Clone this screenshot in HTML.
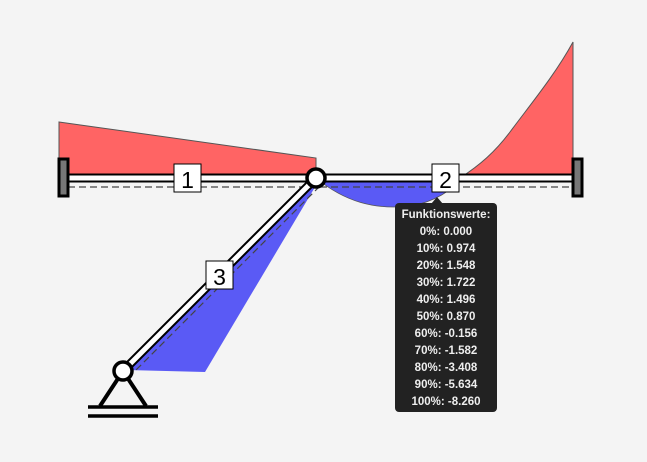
<!DOCTYPE html>
<html><head><style>body{margin:0;background:#f4f4f4}svg{display:block}</style></head><body>
<svg width="647" height="462" xmlns="http://www.w3.org/2000/svg" font-family="Liberation Sans, sans-serif">
<rect width="647" height="462" fill="#f4f4f4"/>
<polygon points="59,122 316,158 316,178 59,178" fill="#ff6464" stroke="#555" stroke-width="1"/>
<path d="M316,178 C345,202 375,210 410,206 C435,202 452,190 462,178 Z" fill="#5a5af5" stroke="#555" stroke-width="0.8"/>
<path d="M460,178 C480,165 495,152 510,132 C530,105 555,75 573,42 L573,178 Z" fill="#ff6464" stroke="#555" stroke-width="1"/>
<polygon points="318,182 205,372 126,370" fill="#5a5af5"/>
<line x1="63" y1="178" x2="316" y2="178" stroke="#000" stroke-width="9"/>
<line x1="63" y1="178" x2="316" y2="178" stroke="#fff" stroke-width="5"/>
<line x1="68" y1="187" x2="312" y2="187" stroke="#444" stroke-width="1.2" stroke-dasharray="7,4"/>
<line x1="316" y1="178" x2="578" y2="178" stroke="#000" stroke-width="9"/>
<line x1="316" y1="178" x2="578" y2="178" stroke="#fff" stroke-width="5"/>
<line x1="320" y1="187" x2="574" y2="187" stroke="#444" stroke-width="1.2" stroke-dasharray="7,4"/>
<line x1="316" y1="178" x2="123" y2="371" stroke="#000" stroke-width="9"/>
<line x1="316" y1="178" x2="123" y2="371" stroke="#fff" stroke-width="5"/>
<line x1="320" y1="186" x2="133" y2="373" stroke="#444" stroke-width="1.2" stroke-dasharray="7,4"/>
<rect x="59" y="159" width="9" height="37" fill="#777" stroke="#000" stroke-width="3"/>
<rect x="573" y="159" width="9" height="37" fill="#777" stroke="#000" stroke-width="3"/>
<polyline points="100,406 123,371 146,406" fill="none" stroke="#000" stroke-width="4"/>
<line x1="88" y1="407" x2="158" y2="407" stroke="#000" stroke-width="3.5"/>
<line x1="88" y1="416" x2="158" y2="416" stroke="#000" stroke-width="3.5"/>
<circle cx="123" cy="371" r="9" fill="#fff" stroke="#000" stroke-width="3.5"/>
<circle cx="316" cy="178" r="9" fill="#fff" stroke="#000" stroke-width="3.5"/>
<rect x="174" y="164" width="27" height="28" fill="#fff" stroke="#000"/>
<text x="187.5" y="188" font-size="23" text-anchor="middle">1</text>
<rect x="432" y="164" width="27" height="28" fill="#fff" stroke="#000"/>
<text x="445.5" y="188" font-size="23" text-anchor="middle">2</text>
<rect x="206" y="261" width="27" height="28" fill="#fff" stroke="#000"/>
<text x="219.5" y="285" font-size="23" text-anchor="middle">3</text>
<polygon points="431,204 437,197 443,204" fill="#222"/>
<rect x="395" y="203" width="102" height="209" rx="4" fill="#222"/>
<g fill="#eee" font-size="11.5" font-weight="bold" text-anchor="middle">
<text x="446" y="218">Funktionswerte:</text>
<text x="446" y="235">0%: 0.000</text>
<text x="446" y="252">10%: 0.974</text>
<text x="446" y="269">20%: 1.548</text>
<text x="446" y="286">30%: 1.722</text>
<text x="446" y="303">40%: 1.496</text>
<text x="446" y="320">50%: 0.870</text>
<text x="446" y="337">60%: -0.156</text>
<text x="446" y="354">70%: -1.582</text>
<text x="446" y="371">80%: -3.408</text>
<text x="446" y="388">90%: -5.634</text>
<text x="446" y="405">100%: -8.260</text>
</g>
</svg>
</body></html>
